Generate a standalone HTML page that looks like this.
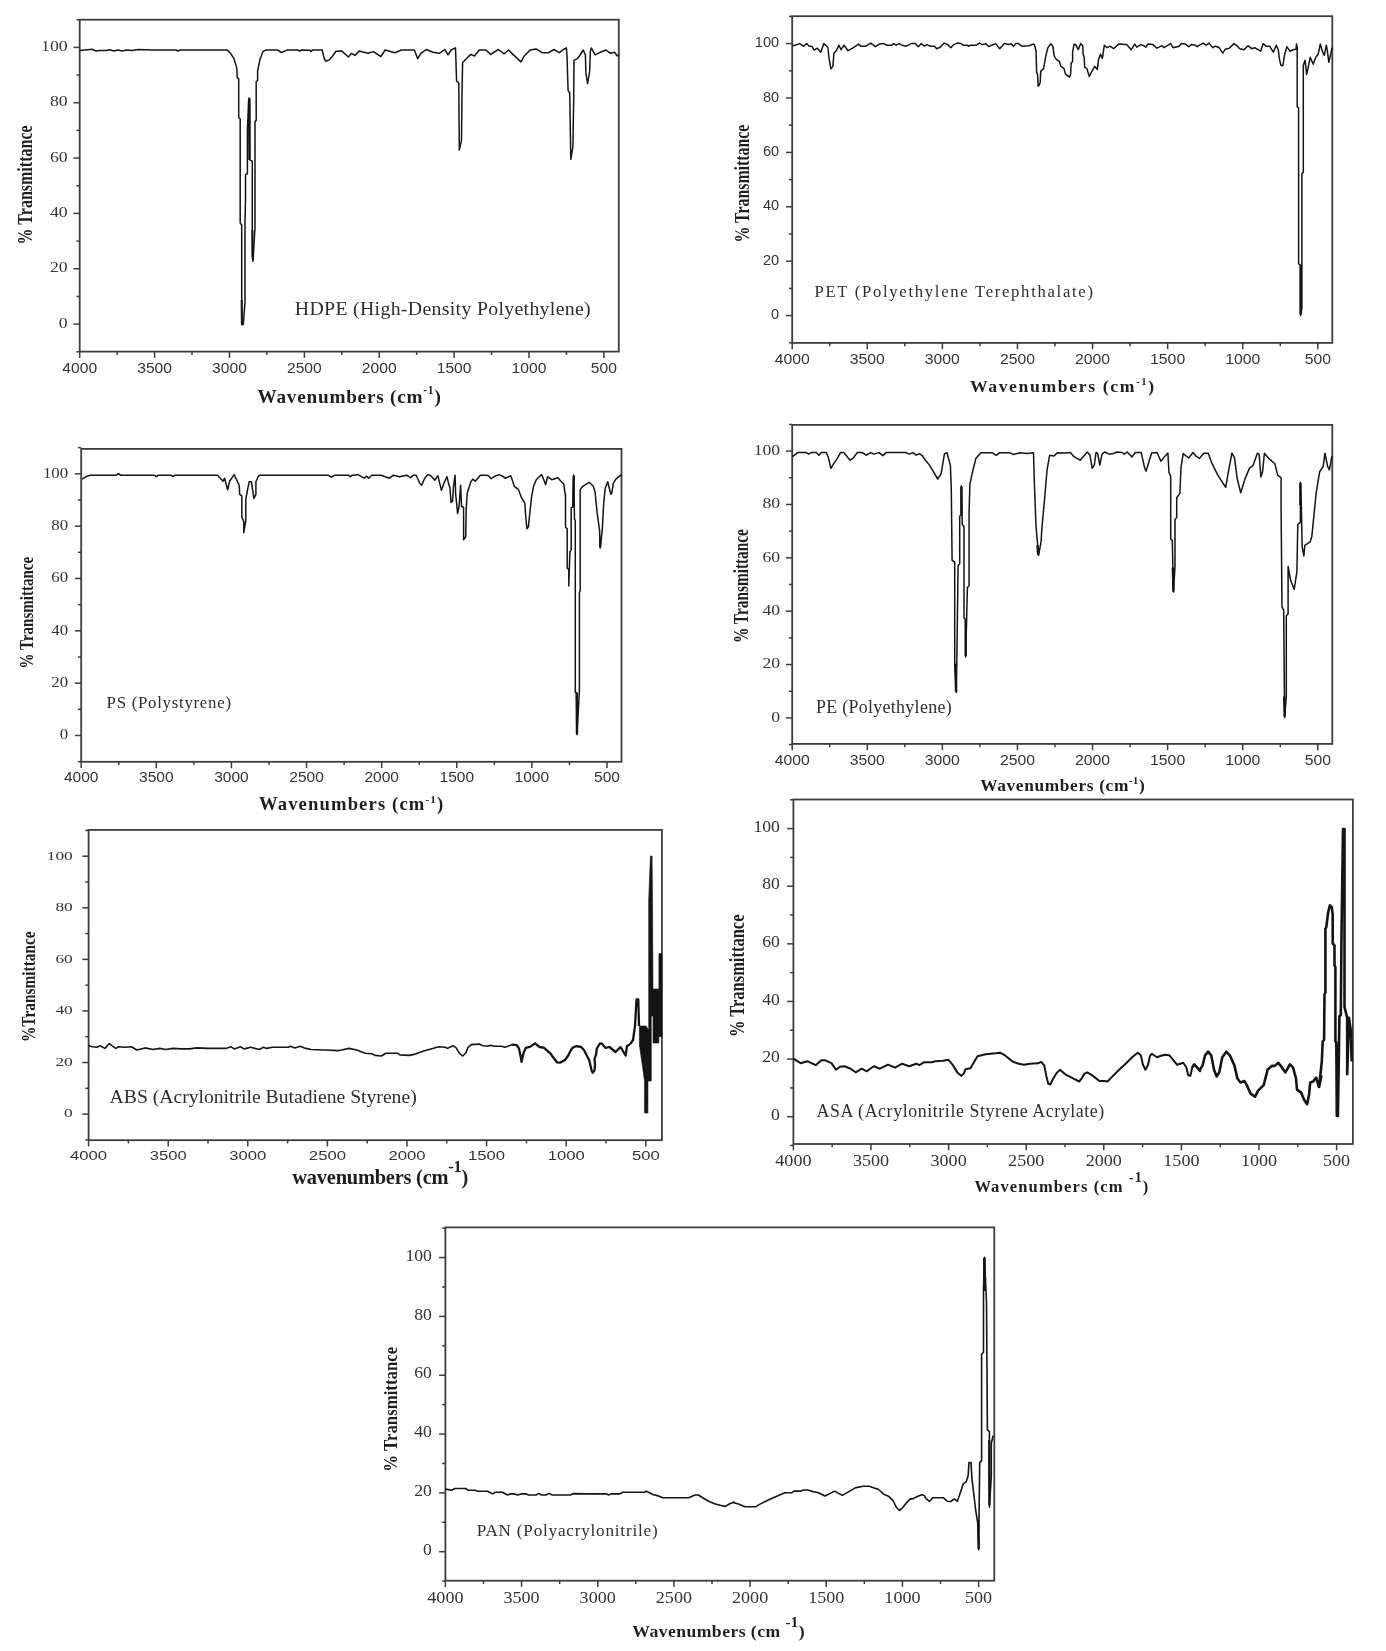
<!DOCTYPE html>
<html><head><meta charset="utf-8"><style>html,body{margin:0;padding:0;background:#fff;overflow:hidden}svg{display:block;will-change:transform}text{-webkit-font-smoothing:antialiased}</style></head>
<body><svg width="1386" height="1651" viewBox="0 0 1386 1651">
<rect width="1386" height="1651" fill="#fff"/>
<rect x="79.7" y="19.7" width="539.10" height="331.90" fill="none" stroke="#3c3c3c" stroke-width="1.8"/>
<line x1="76.40" y1="351.77" x2="79.7" y2="351.77" stroke="#3c3c3c" stroke-width="1.5"/>
<line x1="73.40" y1="324.10" x2="79.7" y2="324.10" stroke="#3c3c3c" stroke-width="1.5"/>
<text x="67.70" y="327.70" text-anchor="end" font-family="Liberation Serif" font-size="15.52" textLength="8.87" lengthAdjust="spacingAndGlyphs" fill="#333">0</text>
<line x1="76.40" y1="296.43" x2="79.7" y2="296.43" stroke="#3c3c3c" stroke-width="1.5"/>
<line x1="73.40" y1="268.76" x2="79.7" y2="268.76" stroke="#3c3c3c" stroke-width="1.5"/>
<text x="67.70" y="272.36" text-anchor="end" font-family="Liberation Serif" font-size="15.52" textLength="17.74" lengthAdjust="spacingAndGlyphs" fill="#333">20</text>
<line x1="76.40" y1="241.09" x2="79.7" y2="241.09" stroke="#3c3c3c" stroke-width="1.5"/>
<line x1="73.40" y1="213.42" x2="79.7" y2="213.42" stroke="#3c3c3c" stroke-width="1.5"/>
<text x="67.70" y="217.02" text-anchor="end" font-family="Liberation Serif" font-size="15.52" textLength="17.74" lengthAdjust="spacingAndGlyphs" fill="#333">40</text>
<line x1="76.40" y1="185.75" x2="79.7" y2="185.75" stroke="#3c3c3c" stroke-width="1.5"/>
<line x1="73.40" y1="158.08" x2="79.7" y2="158.08" stroke="#3c3c3c" stroke-width="1.5"/>
<text x="67.70" y="161.68" text-anchor="end" font-family="Liberation Serif" font-size="15.52" textLength="17.74" lengthAdjust="spacingAndGlyphs" fill="#333">60</text>
<line x1="76.40" y1="130.41" x2="79.7" y2="130.41" stroke="#3c3c3c" stroke-width="1.5"/>
<line x1="73.40" y1="102.74" x2="79.7" y2="102.74" stroke="#3c3c3c" stroke-width="1.5"/>
<text x="67.70" y="106.34" text-anchor="end" font-family="Liberation Serif" font-size="15.52" textLength="17.74" lengthAdjust="spacingAndGlyphs" fill="#333">80</text>
<line x1="76.40" y1="75.07" x2="79.7" y2="75.07" stroke="#3c3c3c" stroke-width="1.5"/>
<line x1="73.40" y1="47.40" x2="79.7" y2="47.40" stroke="#3c3c3c" stroke-width="1.5"/>
<text x="67.70" y="51.00" text-anchor="end" font-family="Liberation Serif" font-size="15.52" textLength="26.61" lengthAdjust="spacingAndGlyphs" fill="#333">100</text>
<line x1="76.40" y1="19.73" x2="79.7" y2="19.73" stroke="#3c3c3c" stroke-width="1.5"/>
<line x1="79.70" y1="351.6" x2="79.70" y2="357.90" stroke="#3c3c3c" stroke-width="1.5"/>
<text x="79.70" y="372.90" text-anchor="middle" font-family="Liberation Sans" font-size="14.86" textLength="34.78" lengthAdjust="spacingAndGlyphs" fill="#333">4000</text>
<line x1="117.14" y1="351.6" x2="117.14" y2="354.90" stroke="#3c3c3c" stroke-width="1.5"/>
<line x1="154.59" y1="351.6" x2="154.59" y2="357.90" stroke="#3c3c3c" stroke-width="1.5"/>
<text x="154.59" y="372.90" text-anchor="middle" font-family="Liberation Sans" font-size="14.86" textLength="34.78" lengthAdjust="spacingAndGlyphs" fill="#333">3500</text>
<line x1="192.03" y1="351.6" x2="192.03" y2="354.90" stroke="#3c3c3c" stroke-width="1.5"/>
<line x1="229.47" y1="351.6" x2="229.47" y2="357.90" stroke="#3c3c3c" stroke-width="1.5"/>
<text x="229.47" y="372.90" text-anchor="middle" font-family="Liberation Sans" font-size="14.86" textLength="34.78" lengthAdjust="spacingAndGlyphs" fill="#333">3000</text>
<line x1="266.91" y1="351.6" x2="266.91" y2="354.90" stroke="#3c3c3c" stroke-width="1.5"/>
<line x1="304.36" y1="351.6" x2="304.36" y2="357.90" stroke="#3c3c3c" stroke-width="1.5"/>
<text x="304.36" y="372.90" text-anchor="middle" font-family="Liberation Sans" font-size="14.86" textLength="34.78" lengthAdjust="spacingAndGlyphs" fill="#333">2500</text>
<line x1="341.80" y1="351.6" x2="341.80" y2="354.90" stroke="#3c3c3c" stroke-width="1.5"/>
<line x1="379.24" y1="351.6" x2="379.24" y2="357.90" stroke="#3c3c3c" stroke-width="1.5"/>
<text x="379.24" y="372.90" text-anchor="middle" font-family="Liberation Sans" font-size="14.86" textLength="34.78" lengthAdjust="spacingAndGlyphs" fill="#333">2000</text>
<line x1="416.69" y1="351.6" x2="416.69" y2="354.90" stroke="#3c3c3c" stroke-width="1.5"/>
<line x1="454.13" y1="351.6" x2="454.13" y2="357.90" stroke="#3c3c3c" stroke-width="1.5"/>
<text x="454.13" y="372.90" text-anchor="middle" font-family="Liberation Sans" font-size="14.86" textLength="34.78" lengthAdjust="spacingAndGlyphs" fill="#333">1500</text>
<line x1="491.57" y1="351.6" x2="491.57" y2="354.90" stroke="#3c3c3c" stroke-width="1.5"/>
<line x1="529.01" y1="351.6" x2="529.01" y2="357.90" stroke="#3c3c3c" stroke-width="1.5"/>
<text x="529.01" y="372.90" text-anchor="middle" font-family="Liberation Sans" font-size="14.86" textLength="34.78" lengthAdjust="spacingAndGlyphs" fill="#333">1000</text>
<line x1="566.46" y1="351.6" x2="566.46" y2="354.90" stroke="#3c3c3c" stroke-width="1.5"/>
<line x1="603.90" y1="351.6" x2="603.90" y2="357.90" stroke="#3c3c3c" stroke-width="1.5"/>
<text x="603.90" y="372.90" text-anchor="middle" font-family="Liberation Sans" font-size="14.86" textLength="26.09" lengthAdjust="spacingAndGlyphs" fill="#333">500</text>
<text x="257.50" y="402.50" textLength="183.30" lengthAdjust="spacing" font-family="Liberation Serif" font-weight="bold" font-size="19.24" fill="#1e1e1e">Wavenumbers (cm<tspan dy="-8.08" font-size="11.55">-1</tspan><tspan dy="8.08">)</tspan></text>
<text transform="translate(31.80,244.40) rotate(-90)" x="0" y="0" textLength="119.00" lengthAdjust="spacingAndGlyphs" font-family="Liberation Serif" font-weight="bold" font-size="20.61" fill="#1e1e1e">% Transmittance</text>
<text x="294.80" y="315.00" textLength="295.90" lengthAdjust="spacing" font-family="Liberation Serif" font-size="19.83" fill="#2e2e2e">HDPE (High-Density Polyethylene)</text>
<polyline points="80.0,50.5 85.0,50.0 92.0,49.3 96.0,51.0 100.0,50.5 106.0,50.5 110.0,49.8 114.0,51.0 118.0,50.0 122.0,51.0 127.0,50.0 132.0,50.5 138.0,49.5 146.0,49.8 152.0,50.0 176.0,50.0 178.0,51.0 180.0,50.0 226.9,49.9 230.0,52.6 233.9,58.4 236.8,68.1 237.3,77.8 238.7,78.7 238.7,117.5 240.2,119.0 240.2,223.0 241.7,225.0 241.7,324.7 243.3,324.2 245.0,302.0 245.0,222.0 245.5,200.0 245.5,174.6 247.4,173.7 247.4,129.1 248.9,98.1 249.9,99.1 249.9,160.1 252.3,161.1 252.3,255.3 253.0,261.3 255.0,227.3 255.0,121.4 256.2,120.4 256.2,81.6 257.6,80.7 257.6,71.0 260.0,59.4 262.9,51.6 265.9,49.9 277.1,49.9 281.5,52.5 287.5,49.9 297.9,49.9 299.7,51.2 301.4,49.9 310.0,50.3 310.9,51.6 312.6,49.9 322.2,49.9 323.9,57.7 325.6,61.2 329.1,59.9 332.6,56.0 336.0,51.2 341.9,51.1 348.4,57.0 351.6,53.3 354.9,55.4 359.2,51.1 367.9,53.3 373.3,51.6 380.9,56.5 385.2,50.0 394.9,52.7 401.4,50.0 414.4,50.0 417.7,58.7 420.9,53.3 426.3,49.5 432.8,52.2 439.3,53.3 444.7,49.5 448.0,54.9 451.2,50.0 455.5,47.9 456.6,80.9 458.8,83.0 459.3,150.1 461.5,140.4 462.0,92.8 462.6,62.5 466.4,58.7 470.7,54.4 474.5,56.0 479.3,50.0 485.8,50.0 490.7,54.4 498.3,49.5 504.2,53.8 508.5,50.0 512.9,54.4 521.0,61.9 524.2,56.0 530.2,50.0 536.1,48.9 542.1,52.7 548.6,52.7 554.0,49.5 559.4,52.7 562.7,50.0 566.4,47.9 567.0,56.0 568.1,90.6 569.7,92.8 570.8,159.3 572.9,146.9 573.7,98.2 574.0,60.3 577.3,58.7 579.4,56.0 583.2,50.0 585.4,54.9 585.9,73.3 587.6,83.6 589.7,71.1 590.3,51.6 591.3,47.9 595.1,54.9 600.5,52.2 606.0,50.0 610.3,53.3 614.6,52.2 617.3,56.0 618.9,54.9" fill="none" stroke="#141414" stroke-width="1.5" stroke-linejoin="round"/>
<polyline points="248.9,100.0 249.4,160.0" fill="none" stroke="#141414" stroke-width="2.2" stroke-linejoin="round"/>
<polyline points="252.4,230.0 252.8,260.0" fill="none" stroke="#141414" stroke-width="2.0" stroke-linejoin="round"/>
<polyline points="241.7,300.0 241.9,324.0" fill="none" stroke="#141414" stroke-width="2.0" stroke-linejoin="round"/>
<rect x="792.2" y="16.2" width="540.10" height="326.70" fill="none" stroke="#3c3c3c" stroke-width="1.8"/>
<line x1="788.90" y1="342.80" x2="792.2" y2="342.80" stroke="#3c3c3c" stroke-width="1.5"/>
<line x1="785.90" y1="315.60" x2="792.2" y2="315.60" stroke="#3c3c3c" stroke-width="1.5"/>
<text x="779.10" y="319.10" text-anchor="end" font-family="Liberation Sans" font-size="14.00" textLength="8.10" lengthAdjust="spacingAndGlyphs" fill="#333">0</text>
<line x1="788.90" y1="288.40" x2="792.2" y2="288.40" stroke="#3c3c3c" stroke-width="1.5"/>
<line x1="785.90" y1="261.20" x2="792.2" y2="261.20" stroke="#3c3c3c" stroke-width="1.5"/>
<text x="779.10" y="264.70" text-anchor="end" font-family="Liberation Sans" font-size="14.00" textLength="16.19" lengthAdjust="spacingAndGlyphs" fill="#333">20</text>
<line x1="788.90" y1="234.00" x2="792.2" y2="234.00" stroke="#3c3c3c" stroke-width="1.5"/>
<line x1="785.90" y1="206.80" x2="792.2" y2="206.80" stroke="#3c3c3c" stroke-width="1.5"/>
<text x="779.10" y="210.30" text-anchor="end" font-family="Liberation Sans" font-size="14.00" textLength="16.19" lengthAdjust="spacingAndGlyphs" fill="#333">40</text>
<line x1="788.90" y1="179.60" x2="792.2" y2="179.60" stroke="#3c3c3c" stroke-width="1.5"/>
<line x1="785.90" y1="152.40" x2="792.2" y2="152.40" stroke="#3c3c3c" stroke-width="1.5"/>
<text x="779.10" y="155.90" text-anchor="end" font-family="Liberation Sans" font-size="14.00" textLength="16.19" lengthAdjust="spacingAndGlyphs" fill="#333">60</text>
<line x1="788.90" y1="125.20" x2="792.2" y2="125.20" stroke="#3c3c3c" stroke-width="1.5"/>
<line x1="785.90" y1="98.00" x2="792.2" y2="98.00" stroke="#3c3c3c" stroke-width="1.5"/>
<text x="779.10" y="101.50" text-anchor="end" font-family="Liberation Sans" font-size="14.00" textLength="16.19" lengthAdjust="spacingAndGlyphs" fill="#333">80</text>
<line x1="788.90" y1="70.80" x2="792.2" y2="70.80" stroke="#3c3c3c" stroke-width="1.5"/>
<line x1="785.90" y1="43.60" x2="792.2" y2="43.60" stroke="#3c3c3c" stroke-width="1.5"/>
<text x="779.10" y="47.10" text-anchor="end" font-family="Liberation Sans" font-size="14.00" textLength="24.29" lengthAdjust="spacingAndGlyphs" fill="#333">100</text>
<line x1="788.90" y1="16.40" x2="792.2" y2="16.40" stroke="#3c3c3c" stroke-width="1.5"/>
<line x1="792.20" y1="342.9" x2="792.20" y2="349.20" stroke="#3c3c3c" stroke-width="1.5"/>
<text x="792.20" y="363.90" text-anchor="middle" font-family="Liberation Sans" font-size="14.43" textLength="35.06" lengthAdjust="spacingAndGlyphs" fill="#333">4000</text>
<line x1="829.74" y1="342.9" x2="829.74" y2="346.20" stroke="#3c3c3c" stroke-width="1.5"/>
<line x1="867.29" y1="342.9" x2="867.29" y2="349.20" stroke="#3c3c3c" stroke-width="1.5"/>
<text x="867.29" y="363.90" text-anchor="middle" font-family="Liberation Sans" font-size="14.43" textLength="35.06" lengthAdjust="spacingAndGlyphs" fill="#333">3500</text>
<line x1="904.83" y1="342.9" x2="904.83" y2="346.20" stroke="#3c3c3c" stroke-width="1.5"/>
<line x1="942.37" y1="342.9" x2="942.37" y2="349.20" stroke="#3c3c3c" stroke-width="1.5"/>
<text x="942.37" y="363.90" text-anchor="middle" font-family="Liberation Sans" font-size="14.43" textLength="35.06" lengthAdjust="spacingAndGlyphs" fill="#333">3000</text>
<line x1="979.91" y1="342.9" x2="979.91" y2="346.20" stroke="#3c3c3c" stroke-width="1.5"/>
<line x1="1017.46" y1="342.9" x2="1017.46" y2="349.20" stroke="#3c3c3c" stroke-width="1.5"/>
<text x="1017.46" y="363.90" text-anchor="middle" font-family="Liberation Sans" font-size="14.43" textLength="35.06" lengthAdjust="spacingAndGlyphs" fill="#333">2500</text>
<line x1="1055.00" y1="342.9" x2="1055.00" y2="346.20" stroke="#3c3c3c" stroke-width="1.5"/>
<line x1="1092.54" y1="342.9" x2="1092.54" y2="349.20" stroke="#3c3c3c" stroke-width="1.5"/>
<text x="1092.54" y="363.90" text-anchor="middle" font-family="Liberation Sans" font-size="14.43" textLength="35.06" lengthAdjust="spacingAndGlyphs" fill="#333">2000</text>
<line x1="1130.09" y1="342.9" x2="1130.09" y2="346.20" stroke="#3c3c3c" stroke-width="1.5"/>
<line x1="1167.63" y1="342.9" x2="1167.63" y2="349.20" stroke="#3c3c3c" stroke-width="1.5"/>
<text x="1167.63" y="363.90" text-anchor="middle" font-family="Liberation Sans" font-size="14.43" textLength="35.06" lengthAdjust="spacingAndGlyphs" fill="#333">1500</text>
<line x1="1205.17" y1="342.9" x2="1205.17" y2="346.20" stroke="#3c3c3c" stroke-width="1.5"/>
<line x1="1242.71" y1="342.9" x2="1242.71" y2="349.20" stroke="#3c3c3c" stroke-width="1.5"/>
<text x="1242.71" y="363.90" text-anchor="middle" font-family="Liberation Sans" font-size="14.43" textLength="35.06" lengthAdjust="spacingAndGlyphs" fill="#333">1000</text>
<line x1="1280.26" y1="342.9" x2="1280.26" y2="346.20" stroke="#3c3c3c" stroke-width="1.5"/>
<line x1="1317.80" y1="342.9" x2="1317.80" y2="349.20" stroke="#3c3c3c" stroke-width="1.5"/>
<text x="1317.80" y="363.90" text-anchor="middle" font-family="Liberation Sans" font-size="14.43" textLength="26.30" lengthAdjust="spacingAndGlyphs" fill="#333">500</text>
<text x="969.90" y="392.40" textLength="184.20" lengthAdjust="spacing" font-family="Liberation Serif" font-weight="bold" font-size="17.67" fill="#1e1e1e">Wavenumbers (cm<tspan dy="-7.42" font-size="10.60">-1</tspan><tspan dy="7.42">)</tspan></text>
<text transform="translate(749.00,242.50) rotate(-90)" x="0" y="0" textLength="117.90" lengthAdjust="spacingAndGlyphs" font-family="Liberation Serif" font-weight="bold" font-size="21.21" fill="#1e1e1e">% Transmittance</text>
<text x="814.50" y="297.40" textLength="278.50" lengthAdjust="spacing" font-family="Liberation Serif" font-size="16.67" fill="#2e2e2e">PET (Polyethylene Terephthalate)</text>
<polyline points="792.5,45.7 795.1,45.2 799.6,43.6 803.6,46.2 806.7,43.6 809.2,46.2 811.7,46.2 814.2,50.2 817.3,48.2 820.8,52.2 823.8,43.6 827.9,47.2 828.9,57.3 830.9,68.9 832.9,66.4 833.9,53.2 836.5,50.2 839.0,45.2 841.0,49.7 844.0,45.2 848.1,50.7 852.6,48.2 858.7,44.1 860.7,46.2 865.8,46.2 870.8,43.1 875.4,46.7 879.4,44.1 883.4,43.6 887.0,45.2 892.0,45.2 893.5,43.6 896.1,45.2 899.1,43.6 902.1,45.2 906.2,46.2 911.2,43.6 915.3,43.6 918.3,46.7 921.3,43.6 924.3,46.2 927.0,44.6 930.1,46.2 934.6,46.2 936.6,48.7 940.2,47.2 944.2,43.1 947.7,44.6 950.8,47.7 953.8,44.6 957.3,43.1 960.9,43.6 963.4,45.2 966.9,45.2 968.4,46.2 970.5,45.2 976.5,45.2 979.5,43.1 982.6,44.6 985.6,43.6 989.1,46.7 991.7,45.2 995.7,43.6 999.7,48.7 1004.3,43.6 1008.8,44.6 1010.9,43.6 1013.4,46.2 1015.9,43.6 1018.4,43.6 1022.0,46.2 1029.0,45.7 1033.1,44.1 1034.6,45.2 1036.1,51.2 1036.6,72.4 1037.6,74.4 1038.1,86.1 1039.1,85.1 1040.2,82.5 1040.7,71.4 1043.7,68.4 1045.7,56.3 1047.7,48.2 1050.8,43.6 1052.8,46.2 1054.3,56.3 1056.3,59.3 1059.3,61.3 1060.9,66.4 1063.9,68.4 1065.6,74.4 1069.6,77.0 1070.6,74.4 1071.1,63.3 1072.6,61.3 1072.6,52.2 1074.1,44.1 1075.7,44.6 1078.2,49.7 1080.7,43.6 1082.7,45.7 1083.2,54.2 1084.2,57.3 1084.7,67.4 1086.8,68.4 1089.3,76.5 1091.3,72.4 1094.8,66.4 1097.4,69.4 1098.4,60.3 1100.4,54.2 1102.4,58.3 1103.4,51.2 1104.4,45.2 1107.0,47.7 1110.0,46.2 1113.5,48.7 1118.6,44.1 1126.7,44.6 1131.2,49.7 1134.7,44.1 1136.8,47.2 1140.8,44.6 1143.8,45.7 1145.9,47.2 1147.9,44.1 1152.9,44.6 1157.0,48.2 1162.0,45.7 1164.0,47.7 1170.6,43.6 1173.1,47.7 1179.2,46.2 1181.2,43.6 1185.3,44.1 1188.8,46.7 1191.3,44.6 1195.4,45.2 1197.0,46.7 1203.1,43.1 1206.1,45.2 1209.1,43.1 1212.7,47.7 1215.2,46.2 1218.7,47.2 1222.8,53.2 1225.3,49.2 1229.3,48.2 1233.9,43.6 1237.4,46.2 1239.9,48.7 1244.0,49.7 1248.0,45.7 1251.6,48.7 1254.6,47.7 1260.7,51.2 1263.2,43.6 1266.2,46.2 1269.7,46.2 1273.3,52.2 1276.3,45.2 1278.3,49.7 1279.3,58.3 1280.9,65.4 1282.9,65.4 1284.9,53.2 1286.9,46.7 1289.9,51.2 1293.0,49.7 1296.0,49.2 1296.5,44.1 1297.5,49.2 1297.2,48.5 1297.2,106.9 1298.6,107.8 1298.6,263.7 1300.6,265.4 1300.6,315.4 1301.9,307.8 1301.9,173.9 1303.3,172.2 1303.3,65.4 1305.0,60.3 1305.1,60.3 1306.6,74.4 1307.6,70.4 1310.2,57.3 1313.2,64.3 1315.7,57.3 1318.2,54.2 1320.3,44.1 1322.3,51.2 1324.3,55.3 1326.3,45.2 1327.3,50.2 1328.8,62.3 1330.9,53.2 1332.2,47.7" fill="none" stroke="#141414" stroke-width="1.5" stroke-linejoin="round"/>
<polyline points="1300.6,265.4 1300.6,314.6" fill="none" stroke="#141414" stroke-width="2.4" stroke-linejoin="round"/>
<rect x="81.2" y="448.9" width="540.30" height="312.90" fill="none" stroke="#3c3c3c" stroke-width="1.8"/>
<line x1="77.90" y1="761.67" x2="81.2" y2="761.67" stroke="#3c3c3c" stroke-width="1.5"/>
<line x1="74.90" y1="735.50" x2="81.2" y2="735.50" stroke="#3c3c3c" stroke-width="1.5"/>
<text x="68.20" y="739.30" text-anchor="end" font-family="Liberation Serif" font-size="15.07" textLength="8.43" lengthAdjust="spacingAndGlyphs" fill="#333">0</text>
<line x1="77.90" y1="709.33" x2="81.2" y2="709.33" stroke="#3c3c3c" stroke-width="1.5"/>
<line x1="74.90" y1="683.16" x2="81.2" y2="683.16" stroke="#3c3c3c" stroke-width="1.5"/>
<text x="68.20" y="686.96" text-anchor="end" font-family="Liberation Serif" font-size="15.07" textLength="16.86" lengthAdjust="spacingAndGlyphs" fill="#333">20</text>
<line x1="77.90" y1="656.99" x2="81.2" y2="656.99" stroke="#3c3c3c" stroke-width="1.5"/>
<line x1="74.90" y1="630.82" x2="81.2" y2="630.82" stroke="#3c3c3c" stroke-width="1.5"/>
<text x="68.20" y="634.62" text-anchor="end" font-family="Liberation Serif" font-size="15.07" textLength="16.86" lengthAdjust="spacingAndGlyphs" fill="#333">40</text>
<line x1="77.90" y1="604.65" x2="81.2" y2="604.65" stroke="#3c3c3c" stroke-width="1.5"/>
<line x1="74.90" y1="578.48" x2="81.2" y2="578.48" stroke="#3c3c3c" stroke-width="1.5"/>
<text x="68.20" y="582.28" text-anchor="end" font-family="Liberation Serif" font-size="15.07" textLength="16.86" lengthAdjust="spacingAndGlyphs" fill="#333">60</text>
<line x1="77.90" y1="552.31" x2="81.2" y2="552.31" stroke="#3c3c3c" stroke-width="1.5"/>
<line x1="74.90" y1="526.14" x2="81.2" y2="526.14" stroke="#3c3c3c" stroke-width="1.5"/>
<text x="68.20" y="529.94" text-anchor="end" font-family="Liberation Serif" font-size="15.07" textLength="16.86" lengthAdjust="spacingAndGlyphs" fill="#333">80</text>
<line x1="77.90" y1="499.97" x2="81.2" y2="499.97" stroke="#3c3c3c" stroke-width="1.5"/>
<line x1="74.90" y1="473.80" x2="81.2" y2="473.80" stroke="#3c3c3c" stroke-width="1.5"/>
<text x="68.20" y="477.60" text-anchor="end" font-family="Liberation Serif" font-size="15.07" textLength="25.29" lengthAdjust="spacingAndGlyphs" fill="#333">100</text>
<line x1="77.90" y1="447.63" x2="81.2" y2="447.63" stroke="#3c3c3c" stroke-width="1.5"/>
<line x1="81.20" y1="761.8" x2="81.20" y2="768.10" stroke="#3c3c3c" stroke-width="1.5"/>
<text x="81.20" y="781.50" text-anchor="middle" font-family="Liberation Sans" font-size="14.43" textLength="34.50" lengthAdjust="spacingAndGlyphs" fill="#333">4000</text>
<line x1="118.76" y1="761.8" x2="118.76" y2="765.10" stroke="#3c3c3c" stroke-width="1.5"/>
<line x1="156.31" y1="761.8" x2="156.31" y2="768.10" stroke="#3c3c3c" stroke-width="1.5"/>
<text x="156.31" y="781.50" text-anchor="middle" font-family="Liberation Sans" font-size="14.43" textLength="34.50" lengthAdjust="spacingAndGlyphs" fill="#333">3500</text>
<line x1="193.87" y1="761.8" x2="193.87" y2="765.10" stroke="#3c3c3c" stroke-width="1.5"/>
<line x1="231.43" y1="761.8" x2="231.43" y2="768.10" stroke="#3c3c3c" stroke-width="1.5"/>
<text x="231.43" y="781.50" text-anchor="middle" font-family="Liberation Sans" font-size="14.43" textLength="34.50" lengthAdjust="spacingAndGlyphs" fill="#333">3000</text>
<line x1="268.99" y1="761.8" x2="268.99" y2="765.10" stroke="#3c3c3c" stroke-width="1.5"/>
<line x1="306.54" y1="761.8" x2="306.54" y2="768.10" stroke="#3c3c3c" stroke-width="1.5"/>
<text x="306.54" y="781.50" text-anchor="middle" font-family="Liberation Sans" font-size="14.43" textLength="34.50" lengthAdjust="spacingAndGlyphs" fill="#333">2500</text>
<line x1="344.10" y1="761.8" x2="344.10" y2="765.10" stroke="#3c3c3c" stroke-width="1.5"/>
<line x1="381.66" y1="761.8" x2="381.66" y2="768.10" stroke="#3c3c3c" stroke-width="1.5"/>
<text x="381.66" y="781.50" text-anchor="middle" font-family="Liberation Sans" font-size="14.43" textLength="34.50" lengthAdjust="spacingAndGlyphs" fill="#333">2000</text>
<line x1="419.21" y1="761.8" x2="419.21" y2="765.10" stroke="#3c3c3c" stroke-width="1.5"/>
<line x1="456.77" y1="761.8" x2="456.77" y2="768.10" stroke="#3c3c3c" stroke-width="1.5"/>
<text x="456.77" y="781.50" text-anchor="middle" font-family="Liberation Sans" font-size="14.43" textLength="34.50" lengthAdjust="spacingAndGlyphs" fill="#333">1500</text>
<line x1="494.33" y1="761.8" x2="494.33" y2="765.10" stroke="#3c3c3c" stroke-width="1.5"/>
<line x1="531.89" y1="761.8" x2="531.89" y2="768.10" stroke="#3c3c3c" stroke-width="1.5"/>
<text x="531.89" y="781.50" text-anchor="middle" font-family="Liberation Sans" font-size="14.43" textLength="34.50" lengthAdjust="spacingAndGlyphs" fill="#333">1000</text>
<line x1="569.44" y1="761.8" x2="569.44" y2="765.10" stroke="#3c3c3c" stroke-width="1.5"/>
<line x1="607.00" y1="761.8" x2="607.00" y2="768.10" stroke="#3c3c3c" stroke-width="1.5"/>
<text x="607.00" y="781.50" text-anchor="middle" font-family="Liberation Sans" font-size="14.43" textLength="25.87" lengthAdjust="spacingAndGlyphs" fill="#333">500</text>
<text x="259.00" y="810.40" textLength="184.20" lengthAdjust="spacing" font-family="Liberation Serif" font-weight="bold" font-size="18.65" fill="#1e1e1e">Wavenumbers (cm<tspan dy="-7.83" font-size="11.19">-1</tspan><tspan dy="7.83">)</tspan></text>
<text transform="translate(32.70,668.50) rotate(-90)" x="0" y="0" textLength="111.70" lengthAdjust="spacingAndGlyphs" font-family="Liberation Serif" font-weight="bold" font-size="19.24" fill="#1e1e1e">% Transmittance</text>
<text x="106.60" y="707.50" textLength="124.40" lengthAdjust="spacing" font-family="Liberation Serif" font-size="16.83" fill="#2e2e2e">PS (Polystyrene)</text>
<polyline points="82.0,479.2 87.1,476.2 90.1,475.2 116.4,475.2 118.4,473.6 120.4,475.2 154.7,475.2 156.3,476.7 158.3,475.2 170.9,475.2 172.9,476.7 174.9,475.2 216.4,475.2 217.5,475.2 223.1,481.2 224.6,478.2 227.6,489.8 229.6,481.2 234.2,474.6 239.2,485.3 239.7,494.3 241.8,495.9 241.8,516.6 243.8,521.6 243.8,532.7 245.8,520.6 245.8,499.4 247.8,488.3 249.3,481.7 251.4,481.7 253.9,498.4 255.9,494.3 255.9,481.7 258.4,476.2 259.9,475.2 328.1,475.2 331.2,477.2 335.2,475.2 348.3,475.2 350.4,476.7 352.4,475.2 354.0,475.2 358.1,474.6 364.1,478.2 366.7,476.2 368.7,478.2 371.7,475.2 381.3,475.2 383.8,476.2 389.4,478.2 393.4,475.2 399.5,476.7 406.6,475.2 410.6,477.7 413.6,475.2 416.2,475.2 419.7,483.2 421.7,485.3 424.7,478.2 427.8,474.6 430.8,475.7 434.8,480.2 437.9,475.7 441.4,490.3 443.9,483.2 447.0,476.7 448.5,483.2 450.0,488.3 451.0,502.4 452.5,501.4 453.5,486.3 455.1,475.2 455.6,493.3 457.6,513.5 459.1,506.5 460.6,485.3 461.6,506.5 463.6,507.5 463.6,539.8 465.7,536.8 466.2,509.5 467.2,493.3 470.7,482.2 472.7,479.2 475.3,481.2 480.3,475.2 486.4,475.2 488.5,475.7 491.1,478.7 495.1,476.2 499.1,474.6 502.7,476.2 505.2,478.2 510.8,475.7 512.3,480.2 514.3,486.3 518.3,489.3 521.4,497.4 524.9,503.4 525.4,512.5 526.9,528.7 528.4,526.7 529.9,512.5 531.5,497.4 533.5,486.3 536.5,479.2 541.6,474.6 543.6,479.2 545.6,484.7 547.6,476.7 551.7,479.7 557.7,477.7 563.8,484.2 565.3,495.4 565.5,494.5 565.5,527.2 567.2,528.8 567.2,568.0 568.8,569.7 568.8,586.0 569.9,551.7 571.2,550.1 571.2,507.6 572.9,506.8 573.7,474.9 574.5,519.0 575.3,520.7 575.3,692.2 577.0,693.0 577.0,734.7 579.4,690.6 579.4,592.5 580.2,590.9 580.2,489.6 582.7,486.3 589.2,482.3 593.3,486.3 595.1,492.3 597.1,512.5 599.6,530.7 600.2,547.9 602.2,530.7 603.7,503.4 605.2,488.3 607.7,481.7 610.8,494.3 611.8,493.3 613.3,483.2 616.3,478.7 621.4,474.6" fill="none" stroke="#141414" stroke-width="1.5" stroke-linejoin="round"/>
<polyline points="573.7,475.7 573.4,506.8" fill="none" stroke="#141414" stroke-width="2.4" stroke-linejoin="round"/>
<polyline points="576.6,693.0 577.0,733.9" fill="none" stroke="#141414" stroke-width="2.4" stroke-linejoin="round"/>
<polyline points="600.2,537.8 600.2,547.4" fill="none" stroke="#141414" stroke-width="2.2" stroke-linejoin="round"/>
<rect x="792.2" y="424.9" width="540.10" height="319.00" fill="none" stroke="#3c3c3c" stroke-width="1.8"/>
<line x1="788.90" y1="744.58" x2="792.2" y2="744.58" stroke="#3c3c3c" stroke-width="1.5"/>
<line x1="785.90" y1="717.90" x2="792.2" y2="717.90" stroke="#3c3c3c" stroke-width="1.5"/>
<text x="780.20" y="721.70" text-anchor="end" font-family="Liberation Serif" font-size="15.52" textLength="8.83" lengthAdjust="spacingAndGlyphs" fill="#333">0</text>
<line x1="788.90" y1="691.22" x2="792.2" y2="691.22" stroke="#3c3c3c" stroke-width="1.5"/>
<line x1="785.90" y1="664.54" x2="792.2" y2="664.54" stroke="#3c3c3c" stroke-width="1.5"/>
<text x="780.20" y="668.34" text-anchor="end" font-family="Liberation Serif" font-size="15.52" textLength="17.66" lengthAdjust="spacingAndGlyphs" fill="#333">20</text>
<line x1="788.90" y1="637.86" x2="792.2" y2="637.86" stroke="#3c3c3c" stroke-width="1.5"/>
<line x1="785.90" y1="611.18" x2="792.2" y2="611.18" stroke="#3c3c3c" stroke-width="1.5"/>
<text x="780.20" y="614.98" text-anchor="end" font-family="Liberation Serif" font-size="15.52" textLength="17.66" lengthAdjust="spacingAndGlyphs" fill="#333">40</text>
<line x1="788.90" y1="584.50" x2="792.2" y2="584.50" stroke="#3c3c3c" stroke-width="1.5"/>
<line x1="785.90" y1="557.82" x2="792.2" y2="557.82" stroke="#3c3c3c" stroke-width="1.5"/>
<text x="780.20" y="561.62" text-anchor="end" font-family="Liberation Serif" font-size="15.52" textLength="17.66" lengthAdjust="spacingAndGlyphs" fill="#333">60</text>
<line x1="788.90" y1="531.14" x2="792.2" y2="531.14" stroke="#3c3c3c" stroke-width="1.5"/>
<line x1="785.90" y1="504.46" x2="792.2" y2="504.46" stroke="#3c3c3c" stroke-width="1.5"/>
<text x="780.20" y="508.26" text-anchor="end" font-family="Liberation Serif" font-size="15.52" textLength="17.66" lengthAdjust="spacingAndGlyphs" fill="#333">80</text>
<line x1="788.90" y1="477.78" x2="792.2" y2="477.78" stroke="#3c3c3c" stroke-width="1.5"/>
<line x1="785.90" y1="451.10" x2="792.2" y2="451.10" stroke="#3c3c3c" stroke-width="1.5"/>
<text x="780.20" y="454.90" text-anchor="end" font-family="Liberation Serif" font-size="15.52" textLength="26.50" lengthAdjust="spacingAndGlyphs" fill="#333">100</text>
<line x1="788.90" y1="424.42" x2="792.2" y2="424.42" stroke="#3c3c3c" stroke-width="1.5"/>
<line x1="792.20" y1="743.9" x2="792.20" y2="750.20" stroke="#3c3c3c" stroke-width="1.5"/>
<text x="792.20" y="765.00" text-anchor="middle" font-family="Liberation Sans" font-size="14.43" textLength="35.06" lengthAdjust="spacingAndGlyphs" fill="#333">4000</text>
<line x1="829.74" y1="743.9" x2="829.74" y2="747.20" stroke="#3c3c3c" stroke-width="1.5"/>
<line x1="867.29" y1="743.9" x2="867.29" y2="750.20" stroke="#3c3c3c" stroke-width="1.5"/>
<text x="867.29" y="765.00" text-anchor="middle" font-family="Liberation Sans" font-size="14.43" textLength="35.06" lengthAdjust="spacingAndGlyphs" fill="#333">3500</text>
<line x1="904.83" y1="743.9" x2="904.83" y2="747.20" stroke="#3c3c3c" stroke-width="1.5"/>
<line x1="942.37" y1="743.9" x2="942.37" y2="750.20" stroke="#3c3c3c" stroke-width="1.5"/>
<text x="942.37" y="765.00" text-anchor="middle" font-family="Liberation Sans" font-size="14.43" textLength="35.06" lengthAdjust="spacingAndGlyphs" fill="#333">3000</text>
<line x1="979.91" y1="743.9" x2="979.91" y2="747.20" stroke="#3c3c3c" stroke-width="1.5"/>
<line x1="1017.46" y1="743.9" x2="1017.46" y2="750.20" stroke="#3c3c3c" stroke-width="1.5"/>
<text x="1017.46" y="765.00" text-anchor="middle" font-family="Liberation Sans" font-size="14.43" textLength="35.06" lengthAdjust="spacingAndGlyphs" fill="#333">2500</text>
<line x1="1055.00" y1="743.9" x2="1055.00" y2="747.20" stroke="#3c3c3c" stroke-width="1.5"/>
<line x1="1092.54" y1="743.9" x2="1092.54" y2="750.20" stroke="#3c3c3c" stroke-width="1.5"/>
<text x="1092.54" y="765.00" text-anchor="middle" font-family="Liberation Sans" font-size="14.43" textLength="35.06" lengthAdjust="spacingAndGlyphs" fill="#333">2000</text>
<line x1="1130.09" y1="743.9" x2="1130.09" y2="747.20" stroke="#3c3c3c" stroke-width="1.5"/>
<line x1="1167.63" y1="743.9" x2="1167.63" y2="750.20" stroke="#3c3c3c" stroke-width="1.5"/>
<text x="1167.63" y="765.00" text-anchor="middle" font-family="Liberation Sans" font-size="14.43" textLength="35.06" lengthAdjust="spacingAndGlyphs" fill="#333">1500</text>
<line x1="1205.17" y1="743.9" x2="1205.17" y2="747.20" stroke="#3c3c3c" stroke-width="1.5"/>
<line x1="1242.71" y1="743.9" x2="1242.71" y2="750.20" stroke="#3c3c3c" stroke-width="1.5"/>
<text x="1242.71" y="765.00" text-anchor="middle" font-family="Liberation Sans" font-size="14.43" textLength="35.06" lengthAdjust="spacingAndGlyphs" fill="#333">1000</text>
<line x1="1280.26" y1="743.9" x2="1280.26" y2="747.20" stroke="#3c3c3c" stroke-width="1.5"/>
<line x1="1317.80" y1="743.9" x2="1317.80" y2="750.20" stroke="#3c3c3c" stroke-width="1.5"/>
<text x="1317.80" y="765.00" text-anchor="middle" font-family="Liberation Sans" font-size="14.43" textLength="26.30" lengthAdjust="spacingAndGlyphs" fill="#333">500</text>
<text x="980.20" y="791.40" textLength="164.50" lengthAdjust="spacing" font-family="Liberation Serif" font-weight="bold" font-size="17.35" fill="#1e1e1e">Wavenumbers (cm<tspan dy="-7.29" font-size="10.41">-1</tspan><tspan dy="7.29">)</tspan></text>
<text transform="translate(748.20,643.00) rotate(-90)" x="0" y="0" textLength="113.90" lengthAdjust="spacingAndGlyphs" font-family="Liberation Serif" font-weight="bold" font-size="20.00" fill="#1e1e1e">% Transmittance</text>
<text x="816.00" y="712.70" textLength="135.60" lengthAdjust="spacing" font-family="Liberation Serif" font-size="17.83" fill="#2e2e2e">PE (Polyethylene)</text>
<polyline points="792.5,456.7 797.6,452.6 806.2,452.6 808.7,454.1 811.2,452.6 816.3,452.6 818.8,455.2 821.3,452.6 826.4,452.6 828.4,457.7 830.9,468.3 833.4,464.2 837.5,458.2 840.5,452.6 844.0,452.6 847.6,457.2 850.1,460.2 853.1,458.2 857.2,452.6 862.2,452.6 866.3,455.2 870.8,452.6 873.8,454.1 878.9,452.6 882.9,455.7 886.0,452.6 906.2,452.6 909.2,454.1 912.7,452.6 916.3,455.2 919.3,453.6 922.3,455.7 925.4,460.2 928.4,463.7 931.8,468.8 937.7,479.0 941.1,473.9 944.5,453.6 947.0,452.7 950.4,465.4 951.3,489.2 952.1,560.3 954.7,562.0 954.7,663.7 956.4,692.5 957.2,631.5 958.1,565.4 959.7,563.7 959.7,516.3 961.4,514.6 961.4,485.8 962.3,524.7 964.0,526.4 964.0,618.0 965.7,619.7 965.7,656.9 967.4,587.5 969.1,585.8 969.1,511.2 969.9,484.1 972.5,472.2 975.8,458.6 980.9,452.7 991.9,452.7 996.2,455.3 999.6,452.7 1009.7,452.7 1013.1,454.4 1019.9,452.7 1026.7,453.6 1033.5,452.7 1034.3,480.7 1036.0,526.4 1038.6,555.3 1041.1,541.7 1041.9,528.1 1045.3,490.8 1047.0,470.5 1049.6,455.3 1053.8,456.1 1057.2,452.7 1065.5,453.1 1070.4,452.5 1074.2,456.9 1080.2,460.2 1087.3,452.0 1090.0,455.3 1092.2,468.3 1094.3,465.1 1096.0,452.5 1097.6,453.1 1099.8,465.1 1102.0,454.2 1104.7,452.0 1109.1,454.2 1113.4,453.6 1116.7,452.0 1122.1,452.5 1124.3,454.2 1127.1,452.0 1132.0,456.9 1135.2,452.5 1141.2,452.5 1144.5,467.3 1146.1,471.1 1148.9,461.8 1151.6,453.1 1157.0,452.5 1160.9,461.3 1164.7,456.4 1167.9,453.1 1169.0,472.7 1170.7,476.0 1170.7,539.2 1172.3,540.3 1173.4,592.1 1175.0,566.5 1175.0,519.6 1176.7,517.4 1176.7,497.8 1179.9,493.4 1181.0,467.3 1183.2,453.6 1188.7,458.0 1193.0,452.5 1196.3,456.4 1199.4,458.4 1203.8,453.2 1208.2,453.2 1211.7,462.8 1217.8,475.1 1225.7,487.4 1228.4,471.6 1231.9,453.2 1234.5,457.6 1237.2,478.6 1240.7,492.7 1245.1,478.6 1249.5,468.1 1253.0,465.5 1257.4,453.2 1259.1,454.1 1260.9,476.9 1262.6,471.6 1264.4,453.2 1268.8,458.4 1274.9,463.7 1277.6,475.1 1281.1,477.8 1281.1,508.5 1282.0,606.9 1283.7,610.4 1284.6,717.5 1286.3,696.5 1286.3,615.7 1288.1,613.9 1288.1,566.5 1290.7,580.5 1294.2,589.3 1296.9,571.7 1297.8,524.3 1300.4,522.6 1300.4,482.2 1301.3,505.0 1302.2,547.2 1303.9,555.9 1304.8,545.4 1310.1,541.9 1311.8,536.6 1316.2,492.7 1319.7,471.6 1323.2,466.3 1325.0,453.2 1327.6,466.3 1329.4,469.9 1332.0,455.8" fill="none" stroke="#141414" stroke-width="1.5" stroke-linejoin="round"/>
<polyline points="961.4,486.6 961.4,514.6" fill="none" stroke="#141414" stroke-width="2.4" stroke-linejoin="round"/>
<polyline points="955.5,663.7 956.0,691.7" fill="none" stroke="#141414" stroke-width="2.4" stroke-linejoin="round"/>
<polyline points="965.7,619.7 965.7,656.1" fill="none" stroke="#141414" stroke-width="2.4" stroke-linejoin="round"/>
<polyline points="1037.5,545.1 1038.2,554.9" fill="none" stroke="#141414" stroke-width="2.4" stroke-linejoin="round"/>
<polyline points="1172.9,567.6 1173.4,591.6" fill="none" stroke="#141414" stroke-width="2.4" stroke-linejoin="round"/>
<polyline points="1300.4,483.0 1300.4,505.0" fill="none" stroke="#141414" stroke-width="2.4" stroke-linejoin="round"/>
<polyline points="1284.1,696.5 1284.6,716.7" fill="none" stroke="#141414" stroke-width="2.2" stroke-linejoin="round"/>
<rect x="88.6" y="829.9" width="573.30" height="310.30" fill="none" stroke="#3c3c3c" stroke-width="1.8"/>
<line x1="85.30" y1="1139.89" x2="88.6" y2="1139.89" stroke="#3c3c3c" stroke-width="1.5"/>
<line x1="82.30" y1="1114.10" x2="88.6" y2="1114.10" stroke="#3c3c3c" stroke-width="1.5"/>
<text x="72.80" y="1117.40" text-anchor="end" font-family="Liberation Serif" font-size="13.43" textLength="8.69" lengthAdjust="spacingAndGlyphs" fill="#333">0</text>
<line x1="85.30" y1="1088.31" x2="88.6" y2="1088.31" stroke="#3c3c3c" stroke-width="1.5"/>
<line x1="82.30" y1="1062.52" x2="88.6" y2="1062.52" stroke="#3c3c3c" stroke-width="1.5"/>
<text x="72.80" y="1065.82" text-anchor="end" font-family="Liberation Serif" font-size="13.43" textLength="17.37" lengthAdjust="spacingAndGlyphs" fill="#333">20</text>
<line x1="85.30" y1="1036.73" x2="88.6" y2="1036.73" stroke="#3c3c3c" stroke-width="1.5"/>
<line x1="82.30" y1="1010.94" x2="88.6" y2="1010.94" stroke="#3c3c3c" stroke-width="1.5"/>
<text x="72.80" y="1014.24" text-anchor="end" font-family="Liberation Serif" font-size="13.43" textLength="17.37" lengthAdjust="spacingAndGlyphs" fill="#333">40</text>
<line x1="85.30" y1="985.15" x2="88.6" y2="985.15" stroke="#3c3c3c" stroke-width="1.5"/>
<line x1="82.30" y1="959.36" x2="88.6" y2="959.36" stroke="#3c3c3c" stroke-width="1.5"/>
<text x="72.80" y="962.66" text-anchor="end" font-family="Liberation Serif" font-size="13.43" textLength="17.37" lengthAdjust="spacingAndGlyphs" fill="#333">60</text>
<line x1="85.30" y1="933.57" x2="88.6" y2="933.57" stroke="#3c3c3c" stroke-width="1.5"/>
<line x1="82.30" y1="907.78" x2="88.6" y2="907.78" stroke="#3c3c3c" stroke-width="1.5"/>
<text x="72.80" y="911.08" text-anchor="end" font-family="Liberation Serif" font-size="13.43" textLength="17.37" lengthAdjust="spacingAndGlyphs" fill="#333">80</text>
<line x1="85.30" y1="881.99" x2="88.6" y2="881.99" stroke="#3c3c3c" stroke-width="1.5"/>
<line x1="82.30" y1="856.20" x2="88.6" y2="856.20" stroke="#3c3c3c" stroke-width="1.5"/>
<text x="72.80" y="859.50" text-anchor="end" font-family="Liberation Serif" font-size="13.43" textLength="26.06" lengthAdjust="spacingAndGlyphs" fill="#333">100</text>
<line x1="85.30" y1="830.41" x2="88.6" y2="830.41" stroke="#3c3c3c" stroke-width="1.5"/>
<line x1="88.60" y1="1140.2" x2="88.60" y2="1146.50" stroke="#3c3c3c" stroke-width="1.5"/>
<text x="88.60" y="1160.20" text-anchor="middle" font-family="Liberation Sans" font-size="12.86" textLength="37.03" lengthAdjust="spacingAndGlyphs" fill="#333">4000</text>
<line x1="128.40" y1="1140.2" x2="128.40" y2="1143.50" stroke="#3c3c3c" stroke-width="1.5"/>
<line x1="168.20" y1="1140.2" x2="168.20" y2="1146.50" stroke="#3c3c3c" stroke-width="1.5"/>
<text x="168.20" y="1160.20" text-anchor="middle" font-family="Liberation Sans" font-size="12.86" textLength="37.03" lengthAdjust="spacingAndGlyphs" fill="#333">3500</text>
<line x1="208.00" y1="1140.2" x2="208.00" y2="1143.50" stroke="#3c3c3c" stroke-width="1.5"/>
<line x1="247.80" y1="1140.2" x2="247.80" y2="1146.50" stroke="#3c3c3c" stroke-width="1.5"/>
<text x="247.80" y="1160.20" text-anchor="middle" font-family="Liberation Sans" font-size="12.86" textLength="37.03" lengthAdjust="spacingAndGlyphs" fill="#333">3000</text>
<line x1="287.60" y1="1140.2" x2="287.60" y2="1143.50" stroke="#3c3c3c" stroke-width="1.5"/>
<line x1="327.40" y1="1140.2" x2="327.40" y2="1146.50" stroke="#3c3c3c" stroke-width="1.5"/>
<text x="327.40" y="1160.20" text-anchor="middle" font-family="Liberation Sans" font-size="12.86" textLength="37.03" lengthAdjust="spacingAndGlyphs" fill="#333">2500</text>
<line x1="367.20" y1="1140.2" x2="367.20" y2="1143.50" stroke="#3c3c3c" stroke-width="1.5"/>
<line x1="407.00" y1="1140.2" x2="407.00" y2="1146.50" stroke="#3c3c3c" stroke-width="1.5"/>
<text x="407.00" y="1160.20" text-anchor="middle" font-family="Liberation Sans" font-size="12.86" textLength="37.03" lengthAdjust="spacingAndGlyphs" fill="#333">2000</text>
<line x1="446.80" y1="1140.2" x2="446.80" y2="1143.50" stroke="#3c3c3c" stroke-width="1.5"/>
<line x1="486.60" y1="1140.2" x2="486.60" y2="1146.50" stroke="#3c3c3c" stroke-width="1.5"/>
<text x="486.60" y="1160.20" text-anchor="middle" font-family="Liberation Sans" font-size="12.86" textLength="37.03" lengthAdjust="spacingAndGlyphs" fill="#333">1500</text>
<line x1="526.40" y1="1140.2" x2="526.40" y2="1143.50" stroke="#3c3c3c" stroke-width="1.5"/>
<line x1="566.20" y1="1140.2" x2="566.20" y2="1146.50" stroke="#3c3c3c" stroke-width="1.5"/>
<text x="566.20" y="1160.20" text-anchor="middle" font-family="Liberation Sans" font-size="12.86" textLength="37.03" lengthAdjust="spacingAndGlyphs" fill="#333">1000</text>
<line x1="606.00" y1="1140.2" x2="606.00" y2="1143.50" stroke="#3c3c3c" stroke-width="1.5"/>
<line x1="645.80" y1="1140.2" x2="645.80" y2="1146.50" stroke="#3c3c3c" stroke-width="1.5"/>
<text x="645.80" y="1160.20" text-anchor="middle" font-family="Liberation Sans" font-size="12.86" textLength="27.77" lengthAdjust="spacingAndGlyphs" fill="#333">500</text>
<text x="292.30" y="1183.50" textLength="176.00" lengthAdjust="spacing" font-family="Liberation Serif" font-weight="bold" font-size="20.45" fill="#1e1e1e">wavenumbers (cm<tspan dy="-11.25" font-size="16.36">-1</tspan><tspan dy="11.25">)</tspan></text>
<text transform="translate(34.50,1042.10) rotate(-90)" x="0" y="0" textLength="110.80" lengthAdjust="spacingAndGlyphs" font-family="Liberation Serif" font-weight="bold" font-size="17.88" fill="#1e1e1e">%Transmittance</text>
<text x="109.60" y="1103.30" textLength="307.10" lengthAdjust="spacing" font-family="Liberation Serif" font-size="19.67" fill="#2e2e2e">ABS (Acrylonitrile Butadiene Styrene)</text>
<polyline points="88.7,1045.7 92.5,1046.8 96.8,1047.3 100.1,1045.7 104.9,1048.4 109.3,1043.5 112.5,1046.2 115.8,1048.4 118.5,1046.8 125.0,1047.3 131.5,1046.8 136.9,1050.0 145.0,1047.9 153.1,1049.5 159.6,1048.4 166.1,1049.5 172.6,1048.4 181.2,1048.9 189.9,1048.9 196.4,1047.9 208.3,1048.4 225.6,1048.4 231.0,1046.8 234.3,1048.9 240.3,1046.8 244.1,1048.9 250.6,1047.3 259.2,1049.5 263.5,1047.3 266.8,1048.4 272.2,1047.3 288.4,1047.3 290.6,1046.2 294.9,1047.9 300.3,1046.2 305.8,1048.4 311.2,1049.5 323.1,1050.0 326.3,1050.0 338.2,1050.6 341.5,1050.0 349.0,1048.4 356.6,1050.0 365.3,1053.3 371.8,1053.8 375.0,1055.4 381.5,1056.0 385.8,1053.3 397.7,1053.3 399.9,1054.9 409.6,1055.4 414.0,1054.4 423.7,1051.1 434.5,1047.9 438.9,1046.8 445.3,1047.3 447.5,1048.4 452.9,1045.7 456.2,1047.9 459.4,1053.3 462.7,1056.0 465.9,1052.7 468.1,1047.3 471.3,1044.6 478.9,1044.1 483.2,1045.7 487.6,1046.2 490.8,1045.2 494.0,1046.2 501.6,1046.2 504.9,1047.3 509.2,1045.7 512.4,1044.6 516.8,1045.2" fill="none" stroke="#141414" stroke-width="1.6" stroke-linejoin="round"/>
<polyline points="512.4,1044.6 516.8,1045.2 518.9,1048.4 520.6,1056.0 521.6,1061.9 521.7,1061.2 523.5,1053.1 525.8,1047.9 530.4,1046.7 535.0,1043.3 539.6,1047.0 544.2,1047.9 546.6,1050.2 550.6,1053.7 553.5,1057.7 556.9,1062.3 560.4,1062.6 565.0,1060.0 567.9,1056.0 570.8,1050.2 573.1,1047.3 576.6,1046.2 581.2,1047.0 584.1,1050.2 586.4,1054.8 589.3,1060.6 591.6,1070.4 592.7,1072.7 594.5,1070.4 595.0,1064.6 594.5,1058.9 596.2,1054.2 596.8,1048.5 600.0,1043.3 602.0,1043.6 605.3,1047.9 609.5,1047.0 615.5,1052.0 620.5,1047.0 625.6,1055.5 627.0,1046.0 629.0,1045.0 631.0,1043.0 633.0,1040.0 635.0,1026.0 636.5,999.5 638.3,999.5 639.0,1026.0" fill="none" stroke="#141414" stroke-width="2.3" stroke-linejoin="round"/>
<polygon points="639.4,1026.0 646.0,1026.0 648.7,1030.0 651.3,1030.0 651.3,1081.0 648.0,1081.0 647.9,1113.0 644.5,1113.0 644.5,1081.0 639.4,1045.0" fill="#141414" stroke="#141414" stroke-width="0.6"/>
<polygon points="650.4,856.0 652.1,856.0 652.5,900.0 653.0,989.0 658.9,989.0 658.9,1043.0 653.0,1043.0 653.0,1016.0 651.3,1016.0 651.3,1030.0 648.7,1030.0 648.7,900.0" fill="#141414" stroke="#141414" stroke-width="0.6"/>
<polygon points="658.9,953.6 662.0,953.6 662.0,1036.6 658.9,1036.6" fill="#141414" stroke="#141414" stroke-width="0.6"/>
<rect x="793.4" y="799.5" width="559.50" height="344.50" fill="none" stroke="#3c3c3c" stroke-width="1.8"/>
<line x1="790.10" y1="1145.51" x2="793.4" y2="1145.51" stroke="#3c3c3c" stroke-width="1.5"/>
<line x1="787.10" y1="1116.70" x2="793.4" y2="1116.70" stroke="#3c3c3c" stroke-width="1.5"/>
<text x="779.90" y="1119.80" text-anchor="end" font-family="Liberation Serif" font-size="16.57" textLength="8.83" lengthAdjust="spacingAndGlyphs" fill="#333">0</text>
<line x1="790.10" y1="1087.89" x2="793.4" y2="1087.89" stroke="#3c3c3c" stroke-width="1.5"/>
<line x1="787.10" y1="1059.08" x2="793.4" y2="1059.08" stroke="#3c3c3c" stroke-width="1.5"/>
<text x="779.90" y="1062.18" text-anchor="end" font-family="Liberation Serif" font-size="16.57" textLength="17.66" lengthAdjust="spacingAndGlyphs" fill="#333">20</text>
<line x1="790.10" y1="1030.27" x2="793.4" y2="1030.27" stroke="#3c3c3c" stroke-width="1.5"/>
<line x1="787.10" y1="1001.46" x2="793.4" y2="1001.46" stroke="#3c3c3c" stroke-width="1.5"/>
<text x="779.90" y="1004.56" text-anchor="end" font-family="Liberation Serif" font-size="16.57" textLength="17.66" lengthAdjust="spacingAndGlyphs" fill="#333">40</text>
<line x1="790.10" y1="972.65" x2="793.4" y2="972.65" stroke="#3c3c3c" stroke-width="1.5"/>
<line x1="787.10" y1="943.84" x2="793.4" y2="943.84" stroke="#3c3c3c" stroke-width="1.5"/>
<text x="779.90" y="946.94" text-anchor="end" font-family="Liberation Serif" font-size="16.57" textLength="17.66" lengthAdjust="spacingAndGlyphs" fill="#333">60</text>
<line x1="790.10" y1="915.03" x2="793.4" y2="915.03" stroke="#3c3c3c" stroke-width="1.5"/>
<line x1="787.10" y1="886.22" x2="793.4" y2="886.22" stroke="#3c3c3c" stroke-width="1.5"/>
<text x="779.90" y="889.32" text-anchor="end" font-family="Liberation Serif" font-size="16.57" textLength="17.66" lengthAdjust="spacingAndGlyphs" fill="#333">80</text>
<line x1="790.10" y1="857.41" x2="793.4" y2="857.41" stroke="#3c3c3c" stroke-width="1.5"/>
<line x1="787.10" y1="828.60" x2="793.4" y2="828.60" stroke="#3c3c3c" stroke-width="1.5"/>
<text x="779.90" y="831.70" text-anchor="end" font-family="Liberation Serif" font-size="16.57" textLength="26.50" lengthAdjust="spacingAndGlyphs" fill="#333">100</text>
<line x1="790.10" y1="799.79" x2="793.4" y2="799.79" stroke="#3c3c3c" stroke-width="1.5"/>
<line x1="793.40" y1="1144" x2="793.40" y2="1150.30" stroke="#3c3c3c" stroke-width="1.5"/>
<text x="793.40" y="1166.10" text-anchor="middle" font-family="Liberation Serif" font-size="16.12" textLength="36.20" lengthAdjust="spacingAndGlyphs" fill="#333">4000</text>
<line x1="832.20" y1="1144" x2="832.20" y2="1147.30" stroke="#3c3c3c" stroke-width="1.5"/>
<line x1="871.00" y1="1144" x2="871.00" y2="1150.30" stroke="#3c3c3c" stroke-width="1.5"/>
<text x="871.00" y="1166.10" text-anchor="middle" font-family="Liberation Serif" font-size="16.12" textLength="36.20" lengthAdjust="spacingAndGlyphs" fill="#333">3500</text>
<line x1="909.80" y1="1144" x2="909.80" y2="1147.30" stroke="#3c3c3c" stroke-width="1.5"/>
<line x1="948.60" y1="1144" x2="948.60" y2="1150.30" stroke="#3c3c3c" stroke-width="1.5"/>
<text x="948.60" y="1166.10" text-anchor="middle" font-family="Liberation Serif" font-size="16.12" textLength="36.20" lengthAdjust="spacingAndGlyphs" fill="#333">3000</text>
<line x1="987.40" y1="1144" x2="987.40" y2="1147.30" stroke="#3c3c3c" stroke-width="1.5"/>
<line x1="1026.20" y1="1144" x2="1026.20" y2="1150.30" stroke="#3c3c3c" stroke-width="1.5"/>
<text x="1026.20" y="1166.10" text-anchor="middle" font-family="Liberation Serif" font-size="16.12" textLength="36.20" lengthAdjust="spacingAndGlyphs" fill="#333">2500</text>
<line x1="1065.00" y1="1144" x2="1065.00" y2="1147.30" stroke="#3c3c3c" stroke-width="1.5"/>
<line x1="1103.80" y1="1144" x2="1103.80" y2="1150.30" stroke="#3c3c3c" stroke-width="1.5"/>
<text x="1103.80" y="1166.10" text-anchor="middle" font-family="Liberation Serif" font-size="16.12" textLength="36.20" lengthAdjust="spacingAndGlyphs" fill="#333">2000</text>
<line x1="1142.60" y1="1144" x2="1142.60" y2="1147.30" stroke="#3c3c3c" stroke-width="1.5"/>
<line x1="1181.40" y1="1144" x2="1181.40" y2="1150.30" stroke="#3c3c3c" stroke-width="1.5"/>
<text x="1181.40" y="1166.10" text-anchor="middle" font-family="Liberation Serif" font-size="16.12" textLength="36.20" lengthAdjust="spacingAndGlyphs" fill="#333">1500</text>
<line x1="1220.20" y1="1144" x2="1220.20" y2="1147.30" stroke="#3c3c3c" stroke-width="1.5"/>
<line x1="1259.00" y1="1144" x2="1259.00" y2="1150.30" stroke="#3c3c3c" stroke-width="1.5"/>
<text x="1259.00" y="1166.10" text-anchor="middle" font-family="Liberation Serif" font-size="16.12" textLength="36.20" lengthAdjust="spacingAndGlyphs" fill="#333">1000</text>
<line x1="1297.80" y1="1144" x2="1297.80" y2="1147.30" stroke="#3c3c3c" stroke-width="1.5"/>
<line x1="1336.60" y1="1144" x2="1336.60" y2="1150.30" stroke="#3c3c3c" stroke-width="1.5"/>
<text x="1336.60" y="1166.10" text-anchor="middle" font-family="Liberation Serif" font-size="16.12" textLength="27.15" lengthAdjust="spacingAndGlyphs" fill="#333">500</text>
<text x="974.40" y="1192.40" textLength="173.90" lengthAdjust="spacing" font-family="Liberation Serif" font-weight="bold" font-size="16.53" fill="#1e1e1e">Wavenumbers (cm <tspan dy="-9.92" font-size="14.05">-1</tspan><tspan dy="9.92">)</tspan></text>
<text transform="translate(744.10,1037.10) rotate(-90)" x="0" y="0" textLength="122.60" lengthAdjust="spacingAndGlyphs" font-family="Liberation Serif" font-weight="bold" font-size="20.00" fill="#1e1e1e">% Transmittance</text>
<text x="816.60" y="1116.90" textLength="287.70" lengthAdjust="spacing" font-family="Liberation Serif" font-size="17.83" fill="#2e2e2e">ASA (Acrylonitrile Styrene Acrylate)</text>
<polyline points="793.5,1058.6 800.6,1063.2 807.2,1061.2 815.8,1065.2 821.3,1060.2 824.8,1060.2 831.4,1063.2 836.0,1069.7 840.0,1066.7 844.5,1066.2 850.6,1068.7 855.7,1072.3 861.7,1068.7 866.8,1071.3 873.8,1066.2 879.9,1068.7 888.0,1064.7 895.1,1067.7 902.1,1063.7 909.2,1066.2 916.3,1063.7 919.3,1065.2 924.3,1062.2 932.1,1062.3 935.1,1061.3 943.2,1060.8 948.2,1059.7 952.3,1064.3 957.3,1072.4 961.4,1075.9 963.9,1073.4 965.4,1069.3 970.5,1068.3 974.5,1061.3 977.5,1056.2 985.6,1054.2 995.7,1053.2 999.7,1052.7 1004.8,1055.2 1012.9,1061.8 1018.9,1063.8 1024.0,1064.8 1030.1,1063.8 1038.1,1063.3 1041.2,1061.8 1044.2,1065.3 1046.2,1075.4 1048.2,1083.5 1050.3,1084.5 1053.3,1078.4 1056.3,1073.4 1059.3,1070.4 1060.0,1069.8 1066.1,1074.9 1073.1,1078.4 1079.2,1081.5 1081.7,1078.4 1084.2,1073.9 1087.3,1072.4 1092.3,1075.4 1099.4,1081.0 1104.4,1081.0 1107.5,1081.5 1112.5,1076.4 1119.6,1069.3 1124.6,1064.8 1132.7,1056.7 1137.8,1052.7 1140.8,1055.2 1142.8,1064.3 1145.4,1069.8 1147.9,1065.3 1149.9,1056.2 1151.9,1053.7 1157.0,1057.2 1161.0,1055.7 1165.1,1054.7 1169.1,1055.2 1172.1,1058.7 1177.2,1064.8 1183.2,1062.8 1186.3,1067.3 1188.3,1075.4 1190.3,1075.9 1192.3,1067.3 1194.3,1064.3" fill="none" stroke="#141414" stroke-width="2.0" stroke-linejoin="round"/>
<polyline points="1192.3,1067.3 1194.3,1064.3 1200.0,1070.9 1199.5,1070.4 1202.6,1065.4 1205.1,1055.3 1208.1,1051.7 1211.2,1055.3 1214.2,1070.4 1216.7,1076.5 1219.2,1072.4 1222.3,1057.3 1226.3,1051.7 1229.8,1055.3 1234.4,1065.4 1237.4,1078.5 1240.5,1082.5 1244.5,1081.0 1247.5,1086.6 1250.6,1093.6 1255.1,1096.7 1258.1,1090.6 1263.7,1085.1 1267.7,1069.4 1271.8,1065.9 1274.8,1065.9 1278.3,1062.8 1281.9,1067.4 1285.4,1072.4 1289.9,1064.3 1293.0,1067.4 1296.0,1078.5 1297.0,1089.6 1301.1,1092.6 1304.1,1099.7 1307.1,1104.2 1309.1,1094.6 1310.2,1082.5 1313.2,1081.5 1316.2,1077.5 1318.7,1086.6 1321.3,1076.5 1319.1,1086.9 1321.8,1061.5 1322.7,1041.5 1324.1,1039.7 1324.5,994.3 1325.4,992.5 1325.4,928.9 1326.3,927.1 1328.1,912.6 1329.9,905.3 1331.8,907.2 1332.7,914.4 1332.7,943.5 1334.5,945.3 1334.5,965.3 1335.4,967.1 1335.4,1041.5 1336.3,1042.4 1336.8,1115.9 1337.9,1115.9 1338.7,1066.9 1339.4,1016.1 1340.8,1015.2 1341.4,943.5 1342.1,892.6 1343.0,829.1 1344.5,829.1 1344.5,1007.0 1347.2,1017.9 1347.2,1074.2 1349.0,1017.9 1350.8,1030.6 1351.7,1061.5" fill="none" stroke="#141414" stroke-width="2.6" stroke-linejoin="round"/>
<rect x="445.4" y="1227.4" width="548.90" height="353.30" fill="none" stroke="#3c3c3c" stroke-width="1.8"/>
<line x1="442.10" y1="1581.11" x2="445.4" y2="1581.11" stroke="#3c3c3c" stroke-width="1.5"/>
<line x1="439.10" y1="1551.70" x2="445.4" y2="1551.70" stroke="#3c3c3c" stroke-width="1.5"/>
<text x="431.90" y="1554.80" text-anchor="end" font-family="Liberation Serif" font-size="16.27" textLength="8.83" lengthAdjust="spacingAndGlyphs" fill="#333">0</text>
<line x1="442.10" y1="1522.29" x2="445.4" y2="1522.29" stroke="#3c3c3c" stroke-width="1.5"/>
<line x1="439.10" y1="1492.88" x2="445.4" y2="1492.88" stroke="#3c3c3c" stroke-width="1.5"/>
<text x="431.90" y="1495.98" text-anchor="end" font-family="Liberation Serif" font-size="16.27" textLength="17.66" lengthAdjust="spacingAndGlyphs" fill="#333">20</text>
<line x1="442.10" y1="1463.47" x2="445.4" y2="1463.47" stroke="#3c3c3c" stroke-width="1.5"/>
<line x1="439.10" y1="1434.06" x2="445.4" y2="1434.06" stroke="#3c3c3c" stroke-width="1.5"/>
<text x="431.90" y="1437.16" text-anchor="end" font-family="Liberation Serif" font-size="16.27" textLength="17.66" lengthAdjust="spacingAndGlyphs" fill="#333">40</text>
<line x1="442.10" y1="1404.65" x2="445.4" y2="1404.65" stroke="#3c3c3c" stroke-width="1.5"/>
<line x1="439.10" y1="1375.24" x2="445.4" y2="1375.24" stroke="#3c3c3c" stroke-width="1.5"/>
<text x="431.90" y="1378.34" text-anchor="end" font-family="Liberation Serif" font-size="16.27" textLength="17.66" lengthAdjust="spacingAndGlyphs" fill="#333">60</text>
<line x1="442.10" y1="1345.83" x2="445.4" y2="1345.83" stroke="#3c3c3c" stroke-width="1.5"/>
<line x1="439.10" y1="1316.42" x2="445.4" y2="1316.42" stroke="#3c3c3c" stroke-width="1.5"/>
<text x="431.90" y="1319.52" text-anchor="end" font-family="Liberation Serif" font-size="16.27" textLength="17.66" lengthAdjust="spacingAndGlyphs" fill="#333">80</text>
<line x1="442.10" y1="1287.01" x2="445.4" y2="1287.01" stroke="#3c3c3c" stroke-width="1.5"/>
<line x1="439.10" y1="1257.60" x2="445.4" y2="1257.60" stroke="#3c3c3c" stroke-width="1.5"/>
<text x="431.90" y="1260.70" text-anchor="end" font-family="Liberation Serif" font-size="16.27" textLength="26.50" lengthAdjust="spacingAndGlyphs" fill="#333">100</text>
<line x1="442.10" y1="1228.19" x2="445.4" y2="1228.19" stroke="#3c3c3c" stroke-width="1.5"/>
<line x1="445.40" y1="1580.7" x2="445.40" y2="1587.00" stroke="#3c3c3c" stroke-width="1.5"/>
<text x="445.40" y="1602.60" text-anchor="middle" font-family="Liberation Serif" font-size="17.16" textLength="36.20" lengthAdjust="spacingAndGlyphs" fill="#333">4000</text>
<line x1="483.49" y1="1580.7" x2="483.49" y2="1584.00" stroke="#3c3c3c" stroke-width="1.5"/>
<line x1="521.57" y1="1580.7" x2="521.57" y2="1587.00" stroke="#3c3c3c" stroke-width="1.5"/>
<text x="521.57" y="1602.60" text-anchor="middle" font-family="Liberation Serif" font-size="17.16" textLength="36.20" lengthAdjust="spacingAndGlyphs" fill="#333">3500</text>
<line x1="559.66" y1="1580.7" x2="559.66" y2="1584.00" stroke="#3c3c3c" stroke-width="1.5"/>
<line x1="597.74" y1="1580.7" x2="597.74" y2="1587.00" stroke="#3c3c3c" stroke-width="1.5"/>
<text x="597.74" y="1602.60" text-anchor="middle" font-family="Liberation Serif" font-size="17.16" textLength="36.20" lengthAdjust="spacingAndGlyphs" fill="#333">3000</text>
<line x1="635.83" y1="1580.7" x2="635.83" y2="1584.00" stroke="#3c3c3c" stroke-width="1.5"/>
<line x1="673.91" y1="1580.7" x2="673.91" y2="1587.00" stroke="#3c3c3c" stroke-width="1.5"/>
<text x="673.91" y="1602.60" text-anchor="middle" font-family="Liberation Serif" font-size="17.16" textLength="36.20" lengthAdjust="spacingAndGlyphs" fill="#333">2500</text>
<line x1="712.00" y1="1580.7" x2="712.00" y2="1584.00" stroke="#3c3c3c" stroke-width="1.5"/>
<line x1="750.09" y1="1580.7" x2="750.09" y2="1587.00" stroke="#3c3c3c" stroke-width="1.5"/>
<text x="750.09" y="1602.60" text-anchor="middle" font-family="Liberation Serif" font-size="17.16" textLength="36.20" lengthAdjust="spacingAndGlyphs" fill="#333">2000</text>
<line x1="788.17" y1="1580.7" x2="788.17" y2="1584.00" stroke="#3c3c3c" stroke-width="1.5"/>
<line x1="826.26" y1="1580.7" x2="826.26" y2="1587.00" stroke="#3c3c3c" stroke-width="1.5"/>
<text x="826.26" y="1602.60" text-anchor="middle" font-family="Liberation Serif" font-size="17.16" textLength="36.20" lengthAdjust="spacingAndGlyphs" fill="#333">1500</text>
<line x1="864.34" y1="1580.7" x2="864.34" y2="1584.00" stroke="#3c3c3c" stroke-width="1.5"/>
<line x1="902.43" y1="1580.7" x2="902.43" y2="1587.00" stroke="#3c3c3c" stroke-width="1.5"/>
<text x="902.43" y="1602.60" text-anchor="middle" font-family="Liberation Serif" font-size="17.16" textLength="36.20" lengthAdjust="spacingAndGlyphs" fill="#333">1000</text>
<line x1="940.51" y1="1580.7" x2="940.51" y2="1584.00" stroke="#3c3c3c" stroke-width="1.5"/>
<line x1="978.60" y1="1580.7" x2="978.60" y2="1587.00" stroke="#3c3c3c" stroke-width="1.5"/>
<text x="978.60" y="1602.60" text-anchor="middle" font-family="Liberation Serif" font-size="17.16" textLength="27.15" lengthAdjust="spacingAndGlyphs" fill="#333">500</text>
<text x="632.30" y="1637.40" textLength="172.40" lengthAdjust="spacing" font-family="Liberation Serif" font-weight="bold" font-size="17.67" fill="#1e1e1e">Wavenumbers (cm <tspan dy="-10.60" font-size="15.02">-1</tspan><tspan dy="10.60">)</tspan></text>
<text transform="translate(396.80,1471.70) rotate(-90)" x="0" y="0" textLength="124.90" lengthAdjust="spacingAndGlyphs" font-family="Liberation Serif" font-weight="bold" font-size="19.24" fill="#1e1e1e">% Transmittance</text>
<text x="476.70" y="1535.60" textLength="180.90" lengthAdjust="spacing" font-family="Liberation Serif" font-size="17.17" fill="#2e2e2e">PAN (Polyacrylonitrile)</text>
<polyline points="445.7,1489.1 451.7,1490.2 454.9,1488.5 465.7,1488.5 467.9,1490.2 475.5,1490.2 477.6,1491.2 487.4,1491.2 492.8,1493.9 494.9,1492.3 502.5,1492.3 507.4,1495.0 510.1,1493.9 514.4,1493.9 517.7,1495.0 520.9,1493.9 526.3,1493.9 528.5,1495.0 536.1,1495.0 538.8,1493.4 541.5,1495.0 545.8,1495.0 549.1,1493.4 552.3,1495.0 570.7,1495.0 572.9,1493.6 588.0,1493.9 606.4,1493.9 608.6,1495.0 610.7,1493.9 619.9,1493.9 622.6,1492.3 644.3,1492.3 646.4,1491.2 652.9,1494.5 657.3,1495.6 662.7,1497.7 688.6,1497.7 695.1,1495.0 698.4,1495.0 702.7,1497.7 708.1,1501.0 714.6,1503.7 720.0,1505.3 725.4,1506.4 729.8,1503.7 734.1,1502.1 733.0,1502.5 738.4,1504.1 744.9,1506.8 755.7,1506.8 759.0,1504.6 769.8,1499.2 784.9,1492.7 792.0,1492.7 794.1,1491.1 801.2,1491.1 803.3,1490.0 807.7,1490.0 810.9,1491.1 818.5,1492.7 825.0,1496.0 834.7,1491.1 842.3,1495.4 855.3,1487.9 862.9,1486.2 869.4,1486.2 876.9,1488.9 878.0,1489.0 883.8,1494.2 889.0,1496.6 893.0,1500.6 896.5,1507.5 899.6,1510.4 902.8,1507.5 906.3,1502.9 910.3,1498.9 912.6,1498.9 918.4,1496.0 921.9,1494.8 924.2,1495.4 925.9,1498.3 929.4,1501.5 932.8,1497.7 943.2,1497.7 947.3,1501.2 950.7,1501.5 954.2,1498.9 957.4,1501.3 961.3,1489.7 963.2,1483.9 966.1,1481.9 968.1,1476.1 969.0,1462.6 971.0,1462.6 971.9,1478.1 975.8,1511.0 977.7,1522.6 978.7,1549.7 979.7,1462.6 981.6,1460.6 981.6,1354.2 983.5,1352.3 983.5,1290.3 984.5,1257.4 986.5,1301.9 987.4,1429.7 989.4,1431.6 989.4,1507.1 991.3,1476.1 991.3,1443.2 993.2,1435.5" fill="none" stroke="#141414" stroke-width="1.6" stroke-linejoin="round"/>
<polyline points="984.3,1258.0 984.6,1291.0" fill="none" stroke="#141414" stroke-width="2.6" stroke-linejoin="round"/>
<polyline points="978.2,1520.0 978.7,1549.0" fill="none" stroke="#141414" stroke-width="2.2" stroke-linejoin="round"/>
<polyline points="989.2,1440.0 989.4,1505.0" fill="none" stroke="#141414" stroke-width="2.2" stroke-linejoin="round"/>
</svg></body></html>
